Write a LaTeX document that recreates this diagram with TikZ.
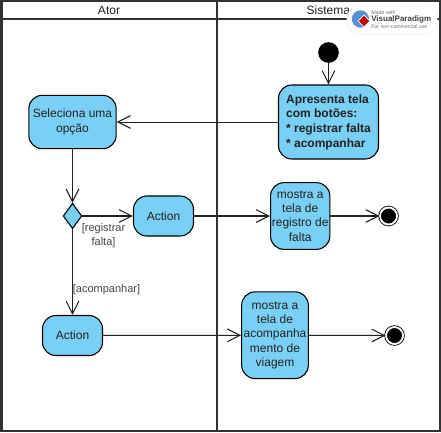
\documentclass[tikz,border=0pt]{standalone}
\usepackage{fontspec}
\setmainfont{Liberation Sans}
\usepackage{tikz}
\usetikzlibrary{
  arrows.meta,
  shapes.geometric
}
\definecolor{actblue}{HTML}{7ACFF5}
\definecolor{lanegray}{HTML}{333333}
\definecolor{inkgray}{HTML}{222222}

\begin{document}
\begin{tikzpicture}[
  x=0.75pt,y=-0.75pt,
  lane/.style={draw=lanegray,line width=1.5pt,inner sep=0pt},
  atorlane/.style={lane,minimum width=161.25pt},
  sistlane/.style={lane,minimum width=167.6pt},
  headtext/.style={minimum height=13.5pt,font=\fontsize{9}{10.8}\selectfont,text=inkgray},
  bodytall/.style={minimum height=309pt},
  act/.style={draw=black,fill=actblue,rounded corners=10pt,line width=0.8pt,align=center,
    inner sep=0pt,text=inkgray,font=\fontsize{9}{10.75}\selectfont},
  decision/.style={draw=black,fill=actblue,diamond,aspect=0.54,line width=0.8pt,
    minimum width=14pt,minimum height=19pt,inner sep=0pt},
  startdot/.style={circle,fill=black,minimum size=15.5pt,inner sep=0pt},
  enddot/.style={circle,draw=black,fill=black,line width=0.6pt,double=white,
    double distance=1.4pt,minimum size=12.75pt,inner sep=0pt},
  guard/.style={align=center,text=inkgray!85,font=\fontsize{8.25}{10.5}\selectfont},
  arrow/.style={-{Straight Barb[length=9.5pt,width=9.5pt,line width=0.8pt]},line width=0.75pt,draw=inkgray},
  heavyarrow/.style={arrow,line width=1.1pt}
]
\useasboundingbox (0,0) rectangle (441,432);

% ---- swimlanes ----
\node[atorlane,headtext] (ator)    at (109,10)     {Ator};
\node[sistlane,headtext] (sistema) at (328.25,10)  {Sistema};
\node[atorlane,bodytall] (atorb)   at (109,225)    {};
\node[sistlane,bodytall] (sistb)   at (328.25,225) {};

% ---- Sistema, top ----
\node[startdot] (ini) at (328.5,52.5) {};
\node[act,minimum width=75pt,minimum height=55.5pt,font=\fontsize{9}{10.95}\selectfont\bfseries,align=left]
  (tela) at (328.5,122) {Apresenta tela\\com botões:\\* registrar falta\\* acompanhar};

% ---- Ator ----
\node[act,minimum width=65.5pt,minimum height=40pt] (opcao) at (72.5,122) {Seleciona uma\\opção};
\node[decision] (dec) at (72.5,216) {};
\node[act,minimum width=45pt,minimum height=30pt] (act1) at (163.5,216) {Action};
\node[act,minimum width=45pt,minimum height=30pt] (act2) at (72.5,335.5) {Action};

% ---- Sistema, telas and ends ----
\node[act,minimum width=44.5pt,minimum height=50pt] (reg) at (300.2,216) {mostra a\\tela de\\registro de\\falta};
\node[act,minimum width=50pt,minimum height=65pt] (acomp) at (275,335.2) {mostra a\\tela de\\acompanha\\mento de\\viagem};
\node[enddot] (fim1) at (388.5,216) {};
\node[enddot] (fim2) at (394.5,335.5) {};

% ---- flows ----
\draw[arrow] (ini)--(tela);
\draw[arrow] (tela)--(opcao);
\draw[arrow] (opcao)--(dec);
\draw[heavyarrow] (dec)--(act1);
\draw[arrow] (dec)--(act2);
\draw[heavyarrow] (act1)--(reg);
\draw[arrow] (act2)--(acomp);
\draw[heavyarrow] (reg)--(fim1);
\draw[arrow] (acomp)--(fim2);

% ---- guards ----
\node[guard] (g1) at (103.5,236) {[registrar\\falta]};
\node[guard] (g2) at (106.5,289.5) {[acompanhar]};

% ---- badge ----
\node[draw=black!6,fill=white,rounded corners=9pt,line width=0.6pt,minimum width=67.5pt,
  minimum height=21pt,inner sep=0pt] (badge) at (392,20) {};
\node[circle,fill=cyan!55!blue!70,minimum size=13pt,inner sep=0pt] (globe) at (360.5,19) {};
\node[diamond,draw=white,fill=red!75!black,line width=0.5pt,minimum size=9pt,inner sep=0pt] (mark) at (364,21) {};
\node[anchor=west,inner sep=0pt,text=black!55,font=\fontsize{4}{5}\selectfont] (made) at (371,12.5) {Made with};
\node[anchor=west,inner sep=0pt,text=black!75,font=\fontsize{6}{8}\selectfont\bfseries] (vp) at (371,19.5) {VisualParadigm};
\node[anchor=west,inner sep=0pt,text=black!55,font=\fontsize{3.9}{5}\selectfont] (nc) at (371,26.5) {For non-commercial use};
\end{tikzpicture}
\end{document}
